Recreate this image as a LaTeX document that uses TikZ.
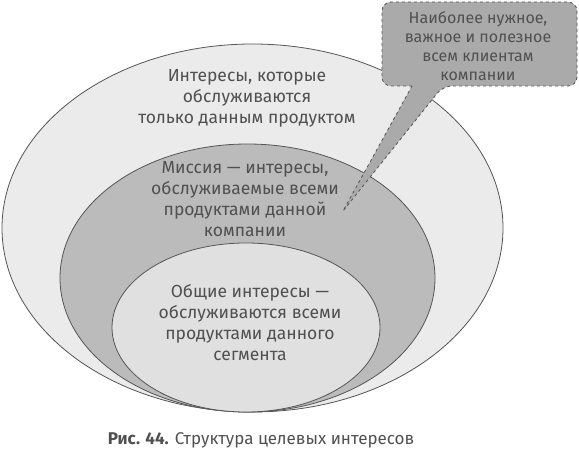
\documentclass[tikz,border=0pt]{standalone}
\usepackage{fontspec}
\setmainfont{Fira Sans}
\usetikzlibrary{shapes.geometric}
\definecolor{outerfill}{HTML}{EBEBEB}
\definecolor{midfill}{HTML}{BBBBBB}
\definecolor{innerfill}{HTML}{E0E0E0}
\definecolor{edge}{HTML}{555555}
\definecolor{txt}{HTML}{505050}
\definecolor{callfill}{HTML}{AAAAAA}
\tikzset{
  ring/.style={ellipse, draw=edge, line width=0.8pt, inner sep=0pt},
  label/.style={align=center, text=txt, font=\fontsize{17.5}{21}\selectfont, inner sep=0pt},
  calltext/.style={align=center, text=txt, font=\fontsize{16}{19}\selectfont, inner sep=0pt},
}
\begin{document}
\begin{tikzpicture}[x=1pt,y=-1pt]
\useasboundingbox (0,0) rectangle (579,457);
\node[ring, fill=outerfill, minimum width=501pt, minimum height=368pt] (outer) at (252.5,228) {};
\node[ring, fill=midfill, minimum width=375pt, minimum height=268pt] (mid) at (247.5,278) {};
\node[ring, fill=innerfill, minimum width=268pt, minimum height=169pt] (inner) at (246,327.5) {};
\node[label] (t1) at (247,98) {Интересы, которые\\обслуживаются\\только данным продуктом};
\node[label] (t2) at (245,199) {Миссия — интересы,\\обслуживаемые всеми\\продуктами данной\\компании};
\node[label] (t3) at (250,323) {Общие интересы —\\обслуживаются всеми\\продуктами данного\\сегмента};
\coordinate (tip) at (343,211);
\draw[draw=edge, fill=callfill, dashed, line width=0.8pt]
  [rounded corners=9pt] (412,86) -- (382,86) -- (382,2) -- (577,2) -- (577,86) -- (443,86)
  [sharp corners] -- (tip) -- (412,86) -- cycle;
\node[calltext] (t4) at (478,46) {Наиболее нужное,\\важное и полезное\\всем клиентам\\компании};
\node[text=txt, font=\fontsize{17}{20}\selectfont, inner sep=0pt] (cap) at (261,440) {\textbf{Рис. 44.} Структура целевых интересов};
\end{tikzpicture}
\end{document}
